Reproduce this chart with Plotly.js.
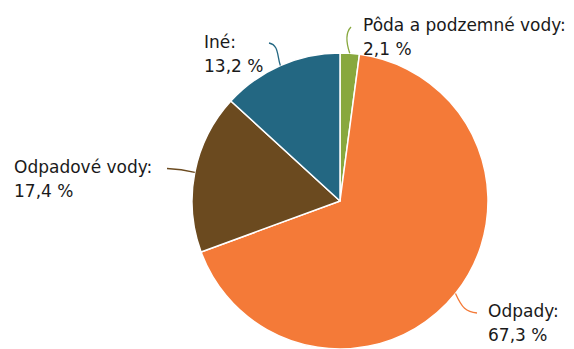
<!DOCTYPE html>
<html>
<head>
<meta charset="utf-8">
<script src="https://cdn.plot.ly/plotly-3.0.1.min.js"></script>
<style>html,body{margin:0;padding:0;background:#fff;}#chart{width:574px;height:349px;}</style>
</head>
<body>
<div id="chart"></div>
<script>
// Data
const categories = ["Pôda a podzemné vody", "Odpady", "Odpadové vody", "Iné"];
const shares = [2.1, 67.3, 17.4, 13.2];
const colors = ["#88a83e", "#f47a38", "#6b4a1f", "#236782"];

// Layout geometry (pixels)
const W = 574, H = 349;
const cx = 340, cy = 201, R = 148;
const lineGap = 24;
// label anchor (left, top) in px and leader end point in px
const labelPos = [
  {x: 361, y: 13, end: [351, 27], c1: [346, 42], c2: [346, 32]},
  {x: 486, y: 299, end: [477, 313], c1: [462, 308], c2: [466, 312]},
  {x: 12, y: 155, end: [167, 168.5], c1: [185, 170], c2: [178, 169]},
  {x: 202, y: 30, end: [269, 43], c1: [277, 56], c2: [279, 45]}
];

const px = x => x / W;
const py = y => 1 - y / H;

const total = shares.reduce((a, b) => a + b, 0);
let cum = 0;
const shapes = [], annotations = [];
const font = {family: 'DejaVu Sans', size: 17, color: '#1a1a1a'};
shares.forEach((v, i) => {
  const mid = (cum + v / 2) / total * 2 * Math.PI;
  cum += v;
  const sx = cx + R * Math.sin(mid), sy = cy - R * Math.cos(mid);
  const L = labelPos[i];
  shapes.push({
    type: 'path', xref: 'paper', yref: 'paper',
    path: `M ${px(sx)} ${py(sy)} C ${px(L.c1[0])} ${py(L.c1[1])}, ${px(L.c2[0])} ${py(L.c2[1])}, ${px(L.end[0])} ${py(L.end[1])}`,
    line: {color: colors[i], width: 1.3}
  });
  const lines = [categories[i] + ':', v.toFixed(1).replace('.', ',') + ' %'];
  lines.forEach((t, k) => {
    annotations.push({
      xref: 'paper', yref: 'paper', x: px(L.x), y: py(L.y + k * lineGap),
      xanchor: 'left', yanchor: 'top', align: 'left', showarrow: false,
      text: t, font: font
    });
  });
});

const trace = {
  type: 'pie',
  labels: categories,
  values: shares,
  sort: false,
  direction: 'clockwise',
  rotation: 0,
  textinfo: 'none',
  hoverinfo: 'label+percent',
  marker: {colors: colors, line: {color: '#ffffff', width: 1.5}},
  domain: {x: [(cx - R) / W, (cx + R) / W], y: [1 - (cy + R) / H, 1 - (cy - R) / H]}
};

Plotly.newPlot('chart', [trace], {
  width: W, height: H,
  margin: {l: 0, r: 0, t: 0, b: 0},
  showlegend: false,
  paper_bgcolor: '#ffffff',
  shapes: shapes,
  annotations: annotations
}, {staticPlot: true});
</script>
</body>
</html>
